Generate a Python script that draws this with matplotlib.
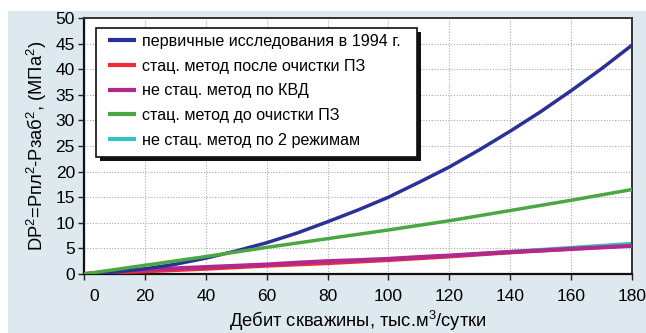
import matplotlib
matplotlib.use("Agg")
import matplotlib.pyplot as plt
from matplotlib.patches import Rectangle
import matplotlib.transforms as mtransforms

plt.rcParams['font.family'] = ['Liberation Sans', 'DejaVu Sans']
plt.rcParams['mathtext.fontset'] = 'custom'
plt.rcParams['mathtext.rm'] = 'Liberation Sans'
plt.rcParams['mathtext.it'] = 'Liberation Sans'

# Flow rate, thousand m3/day
debit = [0, 10, 20, 30, 40, 50, 60, 70, 80, 90,
         100, 110, 120, 130, 140, 150, 160, 170, 180]

# DP^2 for each test method
primary_1994 = [0, 0.4, 1.0, 1.9, 3.1, 4.5, 6.1, 8.0, 10.2, 12.5,
                15.0, 17.9, 20.9, 24.3, 27.9, 31.7, 35.8, 40.1, 44.7]
stat_after = [0, 0.2, 0.4, 0.65, 0.9, 1.2, 1.5, 1.75, 2.0, 2.3,
              2.6, 2.95, 3.3, 3.7, 4.1, 4.45, 4.8, 5.15, 5.5]
nonstat_kvd = [0, 0.5, 0.9, 1.1, 1.35, 1.6, 1.85, 2.2, 2.5, 2.7,
               2.95, 3.3, 3.6, 3.95, 4.3, 4.6, 4.9, 5.2, 5.5]
stat_before = [0, 0.85, 1.7, 2.55, 3.4, 4.3, 5.2, 6.05, 6.9, 7.75,
               8.6, 9.5, 10.4, 11.4, 12.4, 13.4, 14.4, 15.45, 16.5]
nonstat_2 = [0, 0.3, 0.6, 0.85, 1.1, 1.4, 1.7, 2.0, 2.3, 2.6,
             2.9, 3.25, 3.6, 4.0, 4.4, 4.8, 5.2, 5.6, 6.0]

labels = [
    "первичные исследования в 1994 г.",
    "стац. метод после очистки ПЗ",
    "не стац. метод по КВД",
    "стац. метод до очистки ПЗ",
    "не стац. метод по 2 режимам",
]
colors = ["#2a3196", "#ee2b35", "#b02a8e", "#4aa843", "#35c0c2"]
series = [primary_1994, stat_after, nonstat_kvd, stat_before, nonstat_2]
widths = [2.5, 2.0, 3.0, 2.5, 2.2]
zorders = [5, 3, 4, 6, 2]

x_ticks = [0, 20, 40, 60, 80, 100, 120, 140, 160, 180]
y_ticks = [0, 5, 10, 15, 20, 25, 30, 35, 40, 45, 50]

W, H = 646, 333
fig = plt.figure(figsize=(W / 100, H / 100), dpi=100)
fig.patch.set_facecolor("white")

# light blue backdrop panel
fig.patches.append(Rectangle((8 / W, 0), 1 - 8 / W, (H - 11) / H,
                             transform=fig.transFigure, facecolor="#dde8ef",
                             edgecolor="none", zorder=-10))

L, R, T, B = 84, 632, 18, 274
ax = fig.add_axes([L / W, (H - B) / H, (R - L) / W, (B - T) / H])
ax.set_facecolor("white")

lines = []
for ys, c, lw, z, lab in zip(series, colors, widths, zorders, labels):
    ln, = ax.plot(debit, ys, color=c, lw=lw, zorder=z, label=lab,
                  solid_capstyle="butt", solid_joinstyle="round")
    lines.append(ln)

ax.set_xlim(0, 180)
ax.set_ylim(0, 50)
ax.set_xticks(x_ticks)
ax.set_yticks(y_ticks)
ax.tick_params(axis="both", labelsize=12.5, direction="out", length=4,
               width=1.0, color="#222222")
ax.tick_params(axis="x", pad=7)
ax.tick_params(axis="y", pad=2.5)
ax.grid(True, color="#aaaaaa", linestyle=(0, (1, 1.5)), linewidth=0.8)
ax.set_axisbelow(True)

for side in ["left", "bottom"]:
    ax.spines[side].set_linewidth(1.6)
    ax.spines[side].set_color("#111111")
for side in ["top", "right"]:
    ax.spines[side].set_linewidth(1.4)
    ax.spines[side].set_color("#333333")

ax.set_xlabel("Дебит скважины, тыс.м$^3$/сутки", fontsize=13.2, labelpad=3.5)
ax.set_ylabel("DP$^2$=Pпл$^2$-Pзаб$^2$, (МПа$^2$)", fontsize=13.2, labelpad=5)

# legend box with a solid drop shadow
def ax_xy(px, py):
    return ((px - L) / (R - L), (B - py) / (B - T))

bx0, by0 = ax_xy(96, 157)
bx1, by1 = ax_xy(417, 28)
sx, sy = 4 / (R - L), 4 / (B - T)
ax.add_patch(Rectangle((bx0 + sx, by0 - sy), bx1 - bx0, by1 - by0,
                       transform=ax.transAxes, facecolor="#111111",
                       edgecolor="none", zorder=8, clip_on=False))
ax.add_patch(Rectangle((bx0, by0), bx1 - bx0, by1 - by0,
                       transform=ax.transAxes, facecolor="white",
                       edgecolor="#111111", linewidth=1.2, zorder=9,
                       clip_on=False))

lx, ly = ax_xy(108, 34)
leg = ax.legend(handles=lines, loc="upper left", bbox_to_anchor=(lx, ly),
                borderpad=0, borderaxespad=0, frameon=False, fontsize=11.6,
                handlelength=1.75, handletextpad=0.35, labelspacing=0.6)
leg.set_zorder(10)
for h in leg.get_lines():
    h.set_linewidth(3.0)

# first x tick label sits a little to the right
fig.canvas.draw()
first = ax.get_xticklabels()[0]
first.set_transform(first.get_transform() +
                    mtransforms.ScaledTranslation(10 / 100, 0, fig.dpi_scale_trans))

fig.savefig("out.png", dpi=100)
